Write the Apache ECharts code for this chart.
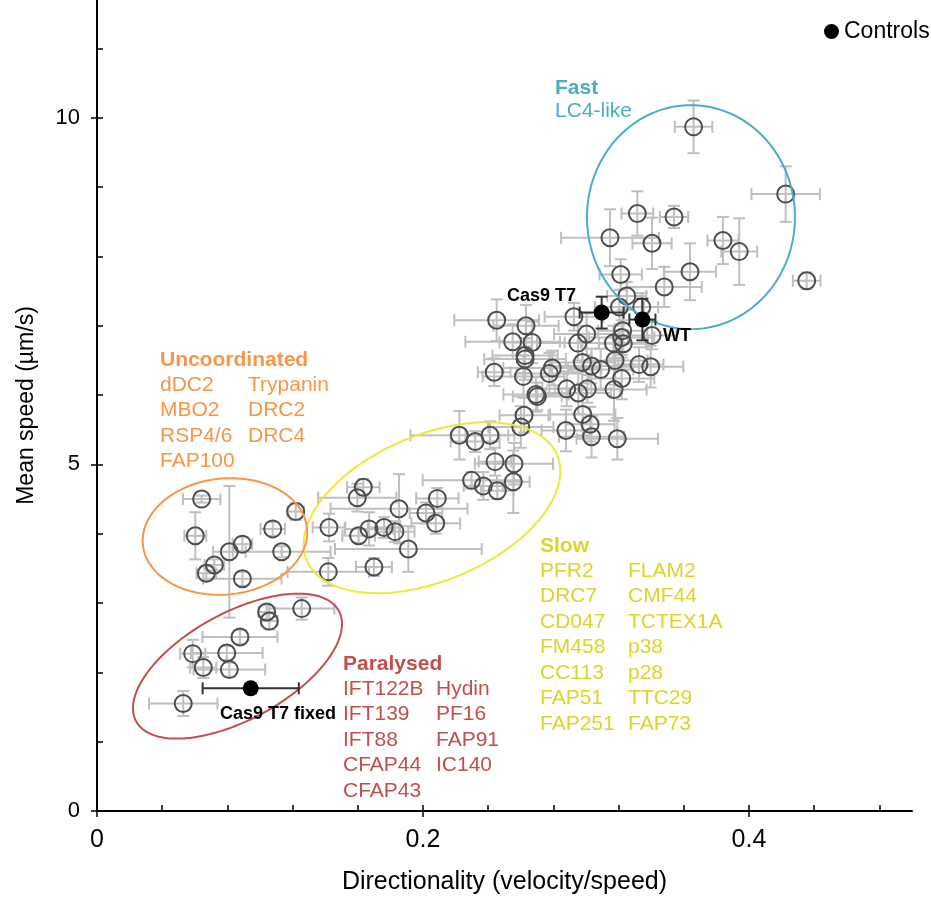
<!DOCTYPE html>
<html><head><meta charset="utf-8">
<script src="https://cdn.jsdelivr.net/npm/echarts@6/dist/echarts.min.js"></script>
<style>html,body{margin:0;padding:0;background:#fff}#c{width:931px;height:900px}</style>
</head><body><div id="c"></div>
<script>
// ---- data ----
const mutantDir = [
  0.366,0.4225,0.3315,0.354,0.3147,0.3405,0.384,0.394,0.4354,0.3638,0.3213,0.348,0.325,
  0.3342,0.3205,0.2926,0.2452,0.2632,0.255,0.2669,0.3004,0.295,0.3225,0.3219,0.3229,0.3168,0.3405,
  0.2626,0.2626,0.2437,0.2616,0.2793,0.2775,0.2978,0.3034,0.309,0.3178,0.3325,0.3397,0.3219,
  0.2882,0.2953,0.3008,0.3172,0.2693,0.2701,0.262,0.260,0.298,0.3025,0.3034,0.2877,0.3192,
  0.2223,0.232,0.2411,
  0.2442,0.2558,0.2298,0.237,0.2456,0.2554,0.1634,0.1597,0.2088,0.1853,0.2018,0.2078,0.1423,
  0.1669,0.1761,0.1828,0.1605,0.191,0.1699,0.1419,
  0.0642,0.0603,0.1219,0.1078,0.0892,0.0812,0.1133,0.072,0.0671,0.0892,
  0.1041,0.1057,0.1256,0.0877,0.0587,0.0796,0.0652,0.0812,0.0529
];
const mutantSpeed = [
  9.87,8.90,8.62,8.57,8.27,8.19,8.23,8.07,7.65,7.78,7.74,7.56,7.43,
  7.27,7.27,7.13,7.08,7.00,6.77,6.76,6.88,6.75,6.93,6.83,6.74,6.75,6.86,
  6.57,6.52,6.33,6.27,6.39,6.31,6.47,6.42,6.37,6.50,6.44,6.41,6.24,
  6.09,6.03,6.09,6.08,6.01,5.98,5.71,5.54,5.72,5.58,5.40,5.49,5.37,
  5.42,5.33,5.42,
  5.04,5.01,4.77,4.69,4.62,4.75,4.67,4.52,4.51,4.36,4.30,4.15,4.09,
  4.07,4.09,4.03,3.97,3.78,3.52,3.45,
  4.50,3.97,4.32,4.07,3.85,3.74,3.74,3.55,3.43,3.35,
  2.87,2.74,2.92,2.51,2.27,2.28,2.07,2.04,1.55
];
const mutantDirErr = [
  0.0115,0.021,0.0097,0.0087,0.030,0.012,0.0095,0.011,0.0085,0.016,0.013,0.023,0.012,
  0.01,0.015,0.018,0.026,0.02,0.029,0.02,0.02,0.025,0.015,0.02,0.015,0.02,0.015,
  0.02,0.025,0.01,0.025,0.03,0.02,0.02,0.025,0.02,0.02,0.015,0.02,0.02,
  0.015,0.02,0.02,0.02,0.02,0.015,0.015,0.02,0.02,0.015,0.02,0.015,0.025,
  0.03,0.015,0.015,
  0.01,0.024,0.03,0.012,0.01,0.01,0.01,0.024,0.013,0.042,0.01,0.015,0.01,
  0.015,0.01,0.012,0.01,0.045,0.011,0.025,
  0.0115,0.0067,0.005,0.0075,0.006,0.01,0.03,0.006,0.006,0.024,
  0.005,0.005,0.02,0.023,0.0077,0.022,0.008,0.022,0.021
];
const mutantSpeedErr = [
  0.38,0.40,0.32,0.16,0.41,0.37,0.34,0.48,0.12,0.41,0.22,0.29,0.2,
  0.2,0.25,0.2,0.3,0.3,0.25,0.3,0.3,0.25,0.3,0.25,0.3,0.25,0.2,
  0.25,0.3,0.2,0.3,0.25,0.3,0.3,0.25,0.3,0.35,0.25,0.3,0.3,
  0.25,0.3,0.2,0.45,0.25,0.2,0.25,0.3,0.3,0.25,0.3,0.3,0.3,
  0.35,0.15,0.2,
  0.2,0.3,0.12,0.2,0.12,0.45,0.12,0.2,0.15,0.5,0.15,0.15,0.2,
  0.24,0.15,0.15,0.1,0.33,0.13,0.2,
  0.05,0.34,0.12,0.1,0.1,0.95,0.08,0.08,0.1,0.1,
  0.1,0.12,0.16,0.1,0.2,0.1,0.15,0.1,0.18
];
const controlNames = ['Cas9 T7','WT','Cas9 T7 fixed'];
const controlDir = [0.3096,0.3346,0.0943];
const controlSpeed = [7.19,7.09,1.77];
const controlDirErr = [0.0135,0.008,0.0295];
const controlSpeedErr = [0.23,0.3,0.07];

// ellipse outlines: centre x, centre y, semi-axis a, semi-axis b (x units), tilt (deg)
const ellipseCentreX = [0.3644,0.2055,0.0785,0.0862];
const ellipseCentreY = [8.567,4.375,3.96,2.09];
const ellipseA = [0.0638,0.0833,0.0506,0.0708];
const ellipseB = [0.0687,0.0448,0.0356,0.0328];
const ellipseTilt = [0,22.8,5.9,28.6];

const xTickValues = [0,0.04,0.08,0.12,0.16,0.2,0.24,0.28,0.32,0.36,0.4,0.44,0.48];
const xLabelValues = [0,0.2,0.4];
const yTickValues = [0,1,2,3,4,5,6,7,8,9,10,11];
const yLabelValues = [0,5,10];

const fastTitle = 'Fast', fastGenes = ['LC4-like'];
const uncoordTitle = 'Uncoordinated';
const uncoordCol1 = ['dDC2','MBO2','RSP4/6','FAP100'];
const uncoordCol2 = ['Trypanin','DRC2','DRC4'];
const slowTitle = 'Slow';
const slowCol1 = ['PFR2','DRC7','CD047','FM458','CC113','FAP51','FAP251'];
const slowCol2 = ['FLAM2','CMF44','TCTEX1A','p38','p28','TTC29','FAP73'];
const paraTitle = 'Paralysed';
const paraCol1 = ['IFT122B','IFT139','IFT88','CFAP44','CFAP43'];
const paraCol2 = ['Hydin','PF16','FAP91','IC140'];

// ---- chart ----
const FONT = '"Liberation Sans", Arial, sans-serif';
const BLUE = '#4BACC6', ORANGE = '#F79646', YELLOW_L = '#EEE83A', YELLOW_T = '#DCD42A', RED = '#C0504D';
const ellipseColors = [BLUE, YELLOW_L, ORANGE, RED];

const chart = echarts.init(document.getElementById('c'), null, {renderer:'canvas'});

function errRender(color){
  return function(params, api){
    const x = api.value(0), y = api.value(1), ex = api.value(2), ey = api.value(3);
    const l = api.coord([x-ex,y]), r = api.coord([x+ex,y]);
    const t = api.coord([x,y+ey]), b = api.coord([x,y-ey]);
    const c = 6;
    const st = {stroke: color, lineWidth: 2};
    return {type:'group', children:[
      {type:'line', shape:{x1:l[0],y1:l[1],x2:r[0],y2:r[1]}, style:st},
      {type:'line', shape:{x1:l[0],y1:l[1]-c,x2:l[0],y2:l[1]+c}, style:st},
      {type:'line', shape:{x1:r[0],y1:r[1]-c,x2:r[0],y2:r[1]+c}, style:st},
      {type:'line', shape:{x1:t[0],y1:t[1],x2:b[0],y2:b[1]}, style:st},
      {type:'line', shape:{x1:t[0]-c,y1:t[1],x2:t[0]+c,y2:t[1]}, style:st},
      {type:'line', shape:{x1:b[0]-c,y1:b[1],x2:b[0]+c,y2:b[1]}, style:st}
    ]};
  };
}
function ellipseRender(params, api){
  const ctr = api.coord([api.value(0), api.value(1)]);
  const a = api.size([api.value(2),0])[0];
  const b = api.size([api.value(3),0])[0];
  const ang = api.value(4)*Math.PI/180;
  const pts = [];
  for (let k=0;k<160;k++){
    const t = k/160*2*Math.PI;
    const ex = a*Math.cos(t), ey = b*Math.sin(t);
    pts.push([ctr[0] + ex*Math.cos(ang) + ey*Math.sin(ang),
              ctr[1] - ex*Math.sin(ang) + ey*Math.cos(ang)]);
  }
  return {type:'polygon', shape:{points:pts}, style:{fill:'none', stroke: ellipseColors[params.dataIndex], lineWidth:2}};
}

const mutantData = mutantDir.map((d,i)=>[d, mutantSpeed[i], mutantDirErr[i], mutantSpeedErr[i]]);
const controlData = controlDir.map((d,i)=>[d, controlSpeed[i], controlDirErr[i], controlSpeedErr[i]]);
const ellipseData = ellipseCentreX.map((d,i)=>[d, ellipseCentreY[i], ellipseA[i], ellipseB[i], ellipseTilt[i]]);

function textEl(x, y, text, color, bold, size){
  return {type:'text', x:x, y:y, silent:true, z:100,
    style:{text:text, fill:color, font:(bold?'bold ':'')+size+'px '+FONT, verticalAlign:'middle', textVerticalAlign:'middle'}};
}
function column(x, y0, items, color){
  return items.map((t,i)=>textEl(x, y0 + i*25.5, t, color, false, 21));
}
const graphics = [].concat(
  [textEl(555, 88, fastTitle, BLUE, true, 21)], column(555, 111, fastGenes, BLUE),
  [textEl(160, 360, uncoordTitle, ORANGE, true, 21)],
  column(160, 385, uncoordCol1, ORANGE), column(248, 385, uncoordCol2, ORANGE),
  [textEl(540, 546, slowTitle, YELLOW_T, true, 21)],
  column(540, 571, slowCol1, YELLOW_T), column(628, 571, slowCol2, YELLOW_T),
  [textEl(343, 664, paraTitle, RED, true, 21)],
  column(343, 689, paraCol1, RED), column(436, 689, paraCol2, RED),
  [textEl(507, 296, controlNames[0], '#000', true, 18),
   textEl(663, 336, controlNames[1], '#000', true, 18),
   textEl(220, 714, controlNames[2], '#000', true, 18)]
);

chart.setOption({
  animation:false,
  backgroundColor:'#fff',
  textStyle:{fontFamily:FONT},
  grid:{left:97, right:19, top:0, bottom:86},
  legend:{data:[{name:'Controls', icon:'circle'}], left:819, top:15, itemWidth:15, itemHeight:15,
    itemStyle:{opacity:1},
    textStyle:{color:'#000', fontSize:23, fontFamily:FONT}, selectedMode:false},
  xAxis:[{
    type:'value', min:0, max:0.5,
    name:'Directionality (velocity/speed)', nameLocation:'middle', nameGap:59,
    nameTextStyle:{color:'#000', fontSize:25, fontFamily:FONT},
    axisLine:{show:true, onZero:false, lineStyle:{color:'#000', width:2}},
    axisTick:{show:true, customValues:xTickValues, inside:true, length:6, lineStyle:{color:'#000', width:1.5}},
    axisLabel:{customValues:xLabelValues, margin:17, color:'#000', fontSize:25, fontFamily:FONT,
      formatter:v=>String(v)},
    splitLine:{show:false}
  },{
    type:'value', min:0, max:0.5, position:'bottom',
    axisLine:{show:false}, axisLabel:{show:false}, splitLine:{show:false},
    axisTick:{show:true, customValues:xLabelValues, inside:false, length:6, lineStyle:{color:'#000', width:1.5}}
  }],
  yAxis:[{
    type:'value', min:0, max:11.7,
    name:'Mean speed (µm/s)', nameLocation:'middle', nameGap:59,
    nameTextStyle:{color:'#000', fontSize:23, fontFamily:FONT},
    axisLine:{show:true, onZero:false, lineStyle:{color:'#000', width:2}},
    axisTick:{show:true, customValues:yTickValues, inside:true, length:6, lineStyle:{color:'#000', width:1.5}},
    axisLabel:{customValues:yLabelValues, margin:17, color:'#000', fontSize:22, fontFamily:FONT,
      formatter:v=>String(v)},
    splitLine:{show:false}
  },{
    type:'value', min:0, max:11.7, position:'left',
    axisLine:{show:false}, axisLabel:{show:false}, splitLine:{show:false},
    axisTick:{show:true, customValues:yLabelValues, inside:false, length:6, lineStyle:{color:'#000', width:1.5}}
  }],
  series:[
    {type:'custom', name:'mutantErr', renderItem:errRender('#BFBFBF'), data:mutantData,
      encode:{x:0,y:1}, z:1, silent:true},
    {type:'scatter', name:'Mutants', data:mutantData, symbol:'circle', symbolSize:17,
      itemStyle:{color:'rgba(255,255,255,0)', borderColor:'#4D4D4D', borderWidth:2, opacity:1},
      emphasis:{disabled:true}, z:2, silent:true},
    {type:'custom', name:'ellipses', renderItem:ellipseRender, data:ellipseData, encode:{x:0,y:1}, z:3, silent:true},
    {type:'custom', name:'controlErr', renderItem:errRender('#333333'), data:controlData,
      encode:{x:0,y:1}, z:4, silent:true},
    {type:'scatter', name:'Controls', data:controlData, symbol:'circle', symbolSize:16,
      itemStyle:{color:'#000', opacity:1}, emphasis:{disabled:true}, z:5, silent:true}
  ],
  graphic:{elements:graphics}
});
</script></body></html>
